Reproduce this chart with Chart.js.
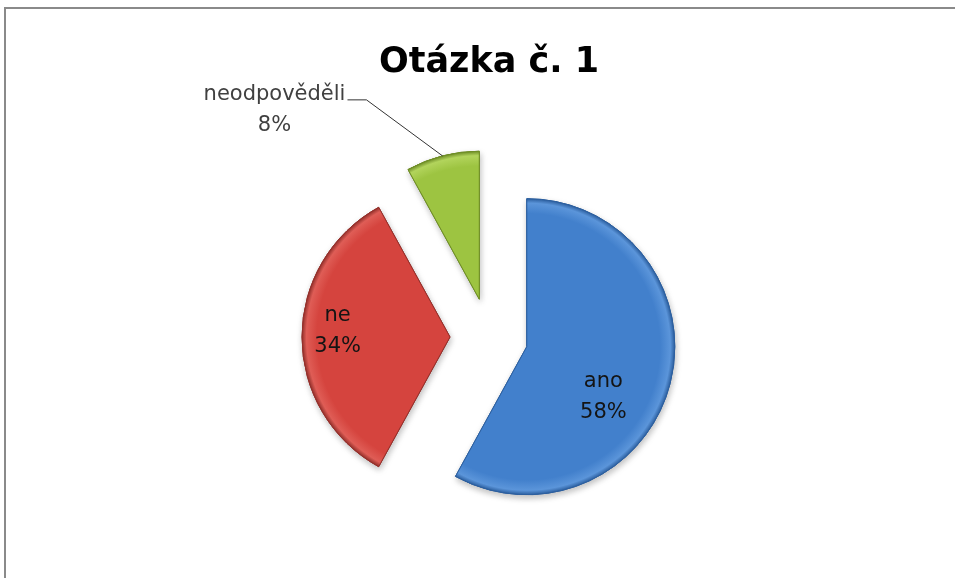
<!DOCTYPE html>
<html>
<head>
<meta charset="utf-8">
<script src="https://cdn.jsdelivr.net/npm/chart.js@4/dist/chart.umd.min.js"></script>
<style>
  html, body { margin: 0; padding: 0; background: #fff; overflow: hidden; }
  #wrap { position: relative; width: 955px; height: 578px; }
  #frame {
    position: absolute; left: 4px; top: 7px; right: -10px; bottom: -10px;
    border-top: 2px solid #8a8a8a; border-left: 2px solid #8a8a8a;
    pointer-events: none;
  }
  canvas { position: absolute; left: 0; top: 0; }
</style>
</head>
<body>
<div id="wrap">
  <canvas id="pieChart" width="955" height="578"></canvas>
  <div id="frame"></div>
</div>
<script>
/* ================= DATA ================= */

const categories = ["ano", "ne", "neodpověděli"];
const values = [58, 34, 8];
const valueLabels = ["58%", "34%", "8%"];

/* ================= STYLE ================= */

const RADIUS = 148;
const EXPLODE = 39;

const fills = [
  { base: "#4280cc", light: "#5b95da", dark: "#2c5f9f" },
  { base: "#d5443e", light: "#df5d56", dark: "#94302b" },
  { base: "#9dc441", light: "#b2d45c", dark: "#6e8d26" }
];

// where the text sits inside a slice: angle shift from the slice middle, part of the radius
const insidePlacement = [
  { shift: 19, frac: 0.62 },
  { shift: 3, frac: 0.76 },
  null
];
// leader-line label for the small slice
const outsidePlacement = { dx: -168, dy: -61, elbowDx: -76, elbowDy: -56, tail: 19 };

function sliceGradient(context) {
  const chart = context.chart;
  const area = chart.chartArea;
  const f = fills[context.dataIndex];
  if (!area) return f.base;
  const cx = (area.left + area.right) / 2;
  const cy = (area.top + area.bottom) / 2;
  const g = chart.ctx.createRadialGradient(cx, cy, 0, cx, cy, RADIUS);
  g.addColorStop(0, f.base);
  g.addColorStop(0.9, f.base);
  g.addColorStop(0.97, f.light);
  g.addColorStop(1, f.dark);
  return g;
}

/* ================= EXPLODED SLICES ================= */

const explodePlugin = {
  id: "explode",
  beforeDatasetDraw(chart, args) {
    const ctx = chart.ctx;
    const drawAll = shadow => {
      args.meta.data.forEach(arc => {
        const mid = (arc.startAngle + arc.endAngle) / 2;
        ctx.save();
        if (shadow) {
          ctx.shadowColor = "rgba(0,0,0,0.25)";
          ctx.shadowBlur = 6;
          ctx.shadowOffsetX = 1;
          ctx.shadowOffsetY = 3;
        }
        ctx.translate(Math.cos(mid) * EXPLODE, Math.sin(mid) * EXPLODE);
        arc.draw(ctx, chart.chartArea);
        ctx.restore();
      });
    };
    drawAll(true);
    drawAll(false);
    return false;
  }
};

/* ================= SLICE LABELS ================= */

const labelPlugin = {
  id: "sliceLabels",
  afterDraw(chart) {
    const ctx = chart.ctx;
    const meta = chart.getDatasetMeta(0);
    const lineGap = 31;
    ctx.save();
    ctx.font = "21px 'DejaVu Sans'";
    ctx.textAlign = "center";
    ctx.textBaseline = "middle";
    meta.data.forEach((arc, i) => {
      const mid = (arc.startAngle + arc.endAngle) / 2;
      const ax = arc.x + Math.cos(mid) * EXPLODE;
      const ay = arc.y + Math.sin(mid) * EXPLODE;
      const place = insidePlacement[i];
      if (place) {
        const a = mid + place.shift * Math.PI / 180;
        const lx = ax + Math.cos(a) * arc.outerRadius * place.frac;
        const ly = ay + Math.sin(a) * arc.outerRadius * place.frac;
        ctx.fillStyle = "#141414";
        ctx.fillText(categories[i], lx, ly - lineGap / 2);
        ctx.fillText(valueLabels[i], lx, ly + lineGap / 2);
      } else {
        const p = outsidePlacement;
        const ox = ax + Math.cos(mid) * arc.outerRadius;
        const oy = ay + Math.sin(mid) * arc.outerRadius;
        ctx.strokeStyle = "#333";
        ctx.lineWidth = 1;
        ctx.beginPath();
        ctx.moveTo(ox, oy);
        ctx.lineTo(ox + p.elbowDx, oy + p.elbowDy);
        ctx.lineTo(ox + p.elbowDx - p.tail, oy + p.elbowDy);
        ctx.stroke();
        ctx.fillStyle = "#404040";
        ctx.fillText(categories[i], ox + p.dx, oy + p.dy);
        ctx.fillText(valueLabels[i], ox + p.dx, oy + p.dy + lineGap);
      }
    });
    ctx.restore();
  }
};

/* ================= PIE CHART ================= */

new Chart(document.getElementById("pieChart"), {
  type: "pie",
  data: {
    labels: categories,
    datasets: [
      {
        data: values,
        radius: RADIUS,
        backgroundColor: sliceGradient,
        borderColor: fills.map(f => f.dark),
        borderWidth: 1
      }
    ]
  },
  options: {
    responsive: false,
    animation: false,
    events: [],
    radius: RADIUS,
    layout: {
      padding: { left: 23, right: 0, top: 0, bottom: 0 }
    },
    plugins: {
      legend: { display: false },
      tooltip: { enabled: false },
      title: {
        display: true,
        text: "Otázka č. 1",
        color: "#000",
        font: { family: "'DejaVu Sans'", size: 35, weight: "bold", lineHeight: 1.2 },
        padding: { top: 42, bottom: 12 }
      }
    }
  },
  plugins: [explodePlugin, labelPlugin]
});
</script>
</body>
</html>
